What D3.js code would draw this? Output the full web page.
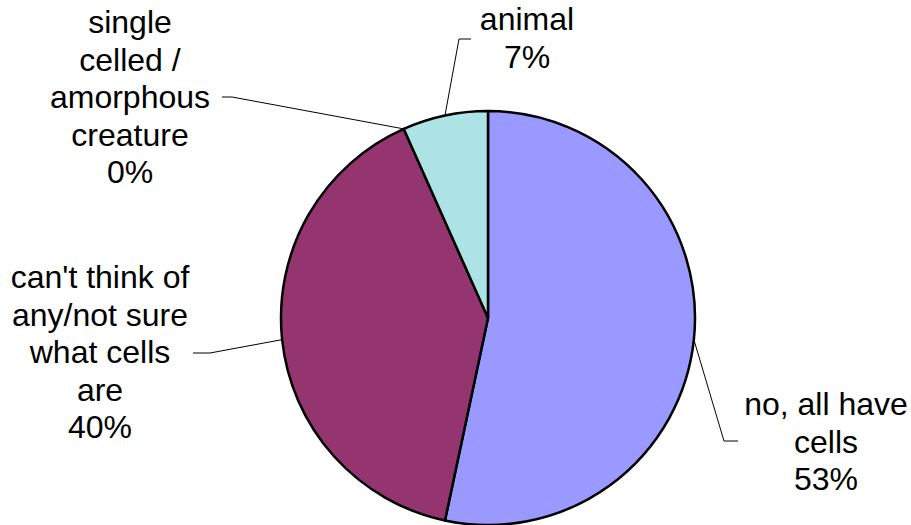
<!DOCTYPE html>
<html>
<head>
<meta charset="utf-8">
<script src="https://cdn.jsdelivr.net/npm/d3@7"></script>
<style>
  body { margin: 0; background: #fff; }
  svg { display: block; }
  text { font-family: "Liberation Sans", Arial, sans-serif; fill: #000; }
</style>
</head>
<body>
<div id="chart"></div>
<script>
"use strict";

const categories = [
  "no, all have cells",
  "can't think of any/not sure what cells are",
  "single celled / amorphous creature",
  "animal",
];
const counts = [8, 6, 0, 1];
const labelLines = [
  ["no, all have", "cells"],
  ["can't think of", "any/not sure", "what cells", "are"],
  ["single", "celled /", "amorphous", "creature"],
  ["animal"],
];
const colors = ["#9999ff", "#953570", "#ffffcc", "#ade3e4"];

(function drawPie() {
  const width = 911;
  const height = 525;
  const cx = 488;
  const cy = 318;
  const radius = 207;
  const fontSize = 32;
  const lineH = 37.5;

  // label block placement: centre x, first baseline y, elbow point
  const labelLayout = [
    { x: 826, y: 415, elbow: [724, 441], end: [738, 441] },
    { x: 100, y: 288, elbow: [210, 353], end: [193, 353] },
    { x: 130, y: 33, elbow: [232, 97], end: [222, 97] },
    { x: 527, y: 30, elbow: [459, 39], end: [471, 39] },
  ];

  const total = d3.sum(counts);
  const data = categories.map((c, i) => ({
    name: c,
    value: counts[i],
    pct: Math.round((counts[i] / total) * 100),
    lines: labelLines[i],
    color: colors[i],
    layout: labelLayout[i],
  }));

  const svg = d3
    .select("#chart")
    .append("svg")
    .attr("width", width)
    .attr("height", height);

  const g = svg.append("g").attr("transform", `translate(${cx},${cy})`);

  const pie = d3.pie().sort(null).value((d) => d.value);
  const arc = d3.arc().innerRadius(0).outerRadius(radius);
  const arcs = pie(data);

  g.selectAll("path.slice")
    .data(arcs.filter((d) => d.data.value > 0))
    .join("path")
    .attr("class", "slice")
    .attr("d", arc)
    .attr("fill", (d) => d.data.color)
    .attr("stroke", "#000")
    .attr("stroke-width", 2.5)
    .attr("stroke-linejoin", "round");

  // leader lines
  svg
    .selectAll("polyline.leader")
    .data(arcs)
    .join("polyline")
    .attr("class", "leader")
    .attr("fill", "none")
    .attr("stroke", "#000")
    .attr("stroke-width", 1)
    .attr("points", (d) => {
      const a = (d.startAngle + d.endAngle) / 2;
      const px = cx + radius * Math.sin(a);
      const py = cy - radius * Math.cos(a);
      const L = d.data.layout;
      return [[px, py], L.elbow, L.end].map((p) => p.join(",")).join(" ");
    });

  const labels = svg
    .selectAll("text.label")
    .data(arcs)
    .join("text")
    .attr("class", "label")
    .attr("text-anchor", "middle")
    .attr("font-size", fontSize);

  labels
    .selectAll("tspan")
    .data((d) => d.data.lines.concat([`${d.data.pct}%`]).map((t, i) => ({ t, i, L: d.data.layout })))
    .join("tspan")
    .attr("x", (d) => d.L.x)
    .attr("y", (d) => d.L.y + d.i * lineH)
    .text((d) => d.t);
})();
</script>
</body>
</html>
